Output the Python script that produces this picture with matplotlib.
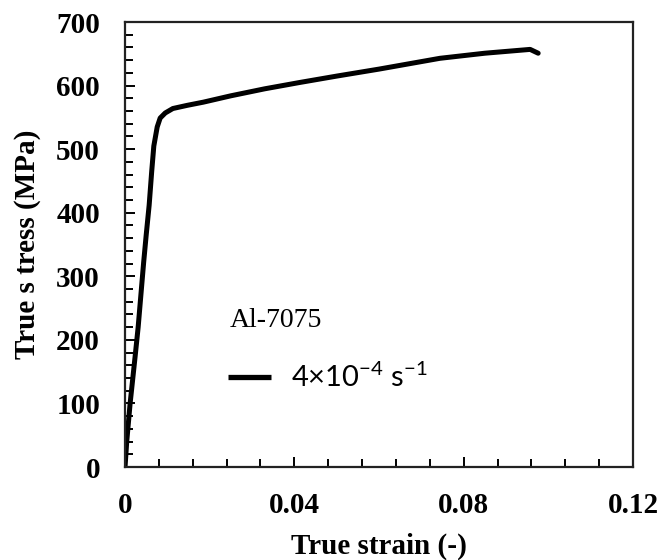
import matplotlib
matplotlib.use("Agg")
import matplotlib.pyplot as plt
from matplotlib.ticker import MultipleLocator, FixedLocator

plt.rcParams['mathtext.fontset'] = 'custom'
plt.rcParams['mathtext.rm'] = 'Lato'
plt.rcParams['mathtext.it'] = 'Lato:italic'
plt.rcParams['mathtext.bf'] = 'Lato:bold'

# Data
strain = [0, 0.0004, 0.0012, 0.0024, 0.0031, 0.0038, 0.0044, 0.0050, 0.0057,
          0.0063, 0.0068, 0.0076, 0.0083, 0.0095, 0.0113, 0.0147, 0.0185,
          0.025, 0.033, 0.0413, 0.050, 0.060, 0.0744, 0.085, 0.0957, 0.0976]
stress = [0, 40, 100, 175, 220, 275, 322, 365, 412,
          465, 505, 535, 549, 557, 564, 569, 574,
          584, 595, 605, 615, 626, 643, 651, 657, 651]

series_label = '4×10$^{-4}$ s$^{-1}$'
material = 'Al-7075'
xlabel = 'True strain (-)'
ylabel = 'True s tress (MPa)'
xticks = [0, 0.04, 0.08, 0.12]
xticklabels = ['0', '0.04', '0.08', '0.12']
yticks = [0, 100, 200, 300, 400, 500, 600, 700]

fig = plt.figure(figsize=(6.64, 5.6), dpi=100)
ax = fig.add_axes([0.1883, 0.166, 0.765, 0.7946])

ax.plot(strain, stress, color='black', lw=3.6, solid_capstyle='round',
        solid_joinstyle='round', label=series_label)

ax.set_xlim(0, 0.12)
ax.set_ylim(0, 700)
ax.xaxis.set_major_locator(FixedLocator(xticks))
ax.set_xticklabels(xticklabels)
ax.xaxis.set_minor_locator(MultipleLocator(0.008))
ax.yaxis.set_major_locator(FixedLocator(yticks))
ax.yaxis.set_minor_locator(MultipleLocator(20))

serif_bold = dict(family='Liberation Serif', weight='bold', size=21)
for lab in ax.get_xticklabels() + ax.get_yticklabels():
    lab.set_fontfamily('Liberation Serif')
    lab.set_fontweight('bold')
    lab.set_fontsize(21)

ax.tick_params(which='major', direction='in', length=7, width=1.4, pad=18,
               color='black')
ax.tick_params(which='minor', direction='in', length=5.5, width=1.4,
               color='black')

for s in ax.spines.values():
    s.set_linewidth(1.6)
    s.set_color('#222222')

ax.set_xlabel(xlabel, fontdict=serif_bold, labelpad=10)
ax.set_ylabel(ylabel, fontdict=serif_bold, labelpad=11)

ax.text(0.207, 0.315, material, transform=ax.transAxes, ha='left',
        va='baseline', family='Liberation Serif', fontsize=20)

leg = ax.legend(loc='center left', bbox_to_anchor=(0.203, 0.202),
                frameon=False, prop={'family': 'Lato', 'size': 21},
                handlelength=1.47, handletextpad=0.67, borderpad=0,
                borderaxespad=0)
leg.legend_handles[0].set_linewidth(3.8)
leg.legend_handles[0].set_solid_capstyle('butt')

fig.savefig('out.png', dpi=100)
